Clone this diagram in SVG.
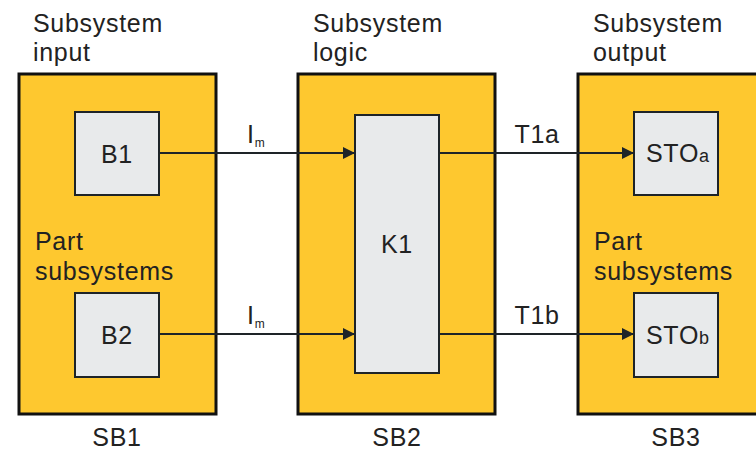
<svg xmlns="http://www.w3.org/2000/svg" width="756" height="451" viewBox="0 0 756 451">
<defs>
<marker id="ah" markerWidth="12" markerHeight="12" refX="12" refY="6" orient="auto" markerUnits="userSpaceOnUse">
<path d="M0,0 L12,6 L0,12 Z" fill="#1e2428"/>
</marker>
<style>
.sb{fill:#fec82f;stroke:#111;stroke-width:3}
.bx{fill:#e8eaeb;stroke:#1e2428;stroke-width:2}
.t{font-family:"Liberation Sans",Arial,sans-serif;font-size:25px;letter-spacing:0.7px;fill:#222}
.s{font-family:"Liberation Sans",Arial,sans-serif;font-size:12px;letter-spacing:0;fill:#222}
.m{font-family:"Liberation Sans",Arial,sans-serif;font-size:18px;fill:#222}
.c{stroke:#1e2428;stroke-width:2;fill:none}
</style>
</defs>
<rect width="756" height="451" fill="#fff"/>
<g id="SB1">
<rect class="sb" x="19" y="74" width="197" height="340"/>
<text class="t" x="33" y="32">Subsystem</text>
<text class="t" x="33" y="61">input</text>
<text class="t" x="35" y="250">Part</text>
<text class="t" x="35" y="280">subsystems</text>
<text class="t" x="117" y="446" text-anchor="middle">SB1</text>
</g>
<g id="SB2">
<rect class="sb" x="298" y="74" width="197" height="340"/>
<text class="t" x="313" y="32">Subsystem</text>
<text class="t" x="313" y="61">logic</text>
<text class="t" x="397" y="446" text-anchor="middle">SB2</text>
</g>
<g id="SB3">
<rect class="sb" x="578" y="74" width="197" height="340"/>
<text class="t" x="593" y="32">Subsystem</text>
<text class="t" x="593" y="61">output</text>
<text class="t" x="594" y="250">Part</text>
<text class="t" x="594" y="280">subsystems</text>
<text class="t" x="676" y="446" text-anchor="middle">SB3</text>
</g>
<g id="B1">
<rect class="bx" x="75" y="112" width="84" height="83"/>
<text class="t" x="117" y="163" text-anchor="middle">B1</text>
</g>
<g id="B2">
<rect class="bx" x="75" y="293" width="84" height="84"/>
<text class="t" x="117" y="344" text-anchor="middle">B2</text>
</g>
<g id="K1">
<rect class="bx" x="355" y="115" width="84" height="258"/>
<text class="t" x="397" y="253" text-anchor="middle">K1</text>
</g>
<g id="STOa">
<rect class="bx" x="634" y="112" width="84" height="83"/>
<text class="t" x="646" y="162">STO<tspan class="m">a</tspan></text>
</g>
<g id="STOb">
<rect class="bx" x="634" y="293" width="84" height="84"/>
<text class="t" x="646" y="344">STO<tspan class="m">b</tspan></text>
</g>
<g id="connectors">
<line class="c" x1="159" y1="153" x2="355" y2="153" marker-end="url(#ah)"/>
<line class="c" x1="159" y1="334" x2="355" y2="334" marker-end="url(#ah)"/>
<line class="c" x1="439" y1="153" x2="634" y2="153" marker-end="url(#ah)"/>
<line class="c" x1="439" y1="334" x2="634" y2="334" marker-end="url(#ah)"/>
<text class="t" x="247" y="143">I<tspan class="s" dy="4">m</tspan></text>
<text class="t" x="247" y="324">I<tspan class="s" dy="4">m</tspan></text>
<text class="t" x="537" y="143" text-anchor="middle">T1a</text>
<text class="t" x="537" y="324" text-anchor="middle">T1b</text>
</g>
</svg>
